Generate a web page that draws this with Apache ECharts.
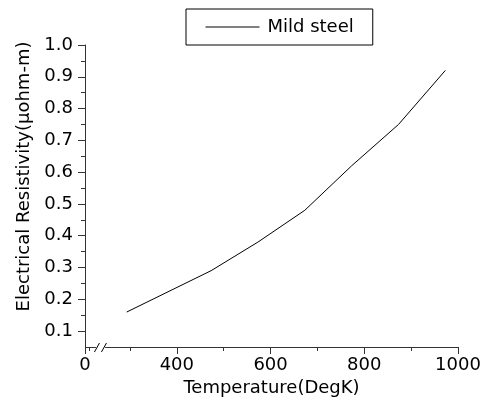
<!DOCTYPE html>
<html>
<head>
<meta charset="utf-8">
<script src="https://cdn.jsdelivr.net/npm/echarts@6/dist/echarts.min.js"></script>
<style>
  html, body { margin: 0; padding: 0; background: #fff; }
  #chart { width: 487px; height: 402px; }
</style>
</head>
<body>
<div id="chart"></div>
<script>
// data
var seriesName = "Mild steel";
var temperature = [293, 473, 573, 673, 773, 873, 973];
var resistivity = [0.16, 0.29, 0.38, 0.48, 0.62, 0.75, 0.92];
var xMajorTicks = [0, 400, 600, 800, 1000];
var xMinorTicks = [10, 300, 500, 700, 900];
var yMajorTicks = [0.1, 0.2, 0.3, 0.4, 0.5, 0.6, 0.7, 0.8, 0.9, 1.0];
var yMinorTicks = [0.15, 0.25, 0.35, 0.45, 0.55, 0.65, 0.75, 0.85, 0.95];
var xBreak = { start: 22, end: 248, gap: 22 };

var font = "DejaVu Sans";
var axisColor = "#333";

var chart = echarts.init(document.getElementById("chart"));

var points = temperature.map(function (t, i) { return [t, resistivity[i]]; });

chart.setOption({
  animation: false,
  grid: { left: 85, right: 29, top: 45, bottom: 53 },
  legend: {
    left: 186,
    top: 9,
    padding: [9, 19, 9, 19],
    borderColor: "#000",
    borderWidth: 1,
    itemWidth: 54,
    itemHeight: 16,
    data: [seriesName],
    itemStyle: { opacity: 0 },
    lineStyle: { color: "#000", width: 1 },
    textStyle: { fontFamily: font, fontSize: 18, color: "#000", padding: [0, 0, 0, 3] }
  },
  xAxis: [
    {
      type: "value",
      min: 0,
      max: 1000,
      breaks: [xBreak],
      breakArea: { show: false },
      name: "Temperature(DegK)",
      nameLocation: "middle",
      nameGap: 32,
      nameTextStyle: { fontFamily: font, fontSize: 18, color: "#000" },
      axisLine: { lineStyle: { color: axisColor, width: 1 } },
      axisTick: { length: 7, customValues: xMajorTicks, lineStyle: { color: axisColor } },
      splitLine: { show: false },
      axisLabel: {
        fontFamily: font, fontSize: 18, color: "#000", margin: 9,
        customValues: xMajorTicks,
        formatter: function (v) { return String(v); }
      }
    },
    {
      // minor ticks only
      type: "value",
      min: 0,
      max: 1000,
      position: "bottom",
      breaks: [xBreak],
      breakArea: { show: false },
      axisLine: { show: false },
      axisTick: { length: 4, customValues: xMinorTicks, lineStyle: { color: axisColor } },
      axisLabel: { show: false },
      splitLine: { show: false }
    }
  ],
  yAxis: [
    {
      type: "value",
      min: 0.05,
      max: 1.0,
      name: "Electrical Resistivity(μohm-m)",
      nameLocation: "middle",
      nameGap: 48,
      nameTextStyle: { fontFamily: font, fontSize: 18, color: "#000", padding: [0, 0, 0, 39] },
      axisLine: { show: true, lineStyle: { color: axisColor, width: 1 } },
      axisTick: { show: true, length: 7, customValues: yMajorTicks, lineStyle: { color: axisColor } },
      splitLine: { show: false },
      axisLabel: {
        fontFamily: font, fontSize: 18, color: "#000", margin: 12,
        customValues: yMajorTicks,
        formatter: function (v) { return v.toFixed(1); }
      }
    },
    {
      // minor ticks only
      type: "value",
      min: 0.05,
      max: 1.0,
      position: "left",
      axisLine: { show: false },
      axisTick: { show: true, length: 4, customValues: yMinorTicks, lineStyle: { color: axisColor } },
      axisLabel: { show: false },
      splitLine: { show: false }
    }
  ],
  series: [
    {
      name: seriesName,
      type: "line",
      data: points,
      symbol: "none",
      itemStyle: { color: "#000" },
      lineStyle: { color: "#000", width: 1 }
    }
  ]
});

// break marks "//" on the x axis
var midVal = (xBreak.start + xBreak.end) / 2;
var bx = chart.convertToPixel({ xAxisIndex: 0 }, midVal);
var by = chart.convertToPixel({ yAxisIndex: 0 }, 0.05);
chart.setOption({
  graphic: [
    { type: "rect", shape: { x: bx - 3, y: by - 2, width: 6, height: 4 }, style: { fill: "#fff" }, z: 100 },
    { type: "line", shape: { x1: bx - 6, y1: by + 5, x2: bx - 1, y2: by - 4 }, style: { stroke: "#000", lineWidth: 1 }, z: 101 },
    { type: "line", shape: { x1: bx + 1, y1: by + 5, x2: bx + 6, y2: by - 4 }, style: { stroke: "#000", lineWidth: 1 }, z: 101 }
  ]
});
</script>
</body>
</html>
